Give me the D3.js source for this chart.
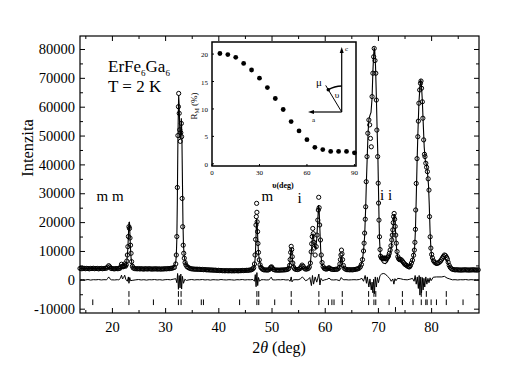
<!DOCTYPE html>
<html><head><meta charset="utf-8">
<script src="https://cdn.jsdelivr.net/npm/d3@7/dist/d3.min.js"></script>
<style>
body{margin:0;background:#fff}
svg{display:block}
text{font-family:"Liberation Serif","Times New Roman",serif;fill:#000}
</style>
</head><body>
<svg id="chart" width="510" height="369"></svg>
<script>
// ---------------- DATA ----------------
// observed intensity [2theta (deg), counts]
const observed = [
[14.0,3950],[14.25,3850],[14.5,3900],[14.75,4000],[15.0,3850],[15.25,3950],[15.5,3900],[15.75,3800],[16.0,3950],[16.25,3900],[16.5,4000],[16.75,3850],[17.0,3900],[17.25,3950],[17.5,3800],[17.75,3900],[18.0,3950],[18.25,3850],[18.5,3900],[18.75,4000],
[19.0,4050],[19.2,4400],[19.4,4900],[19.6,4500],[19.8,4000],[20.0,3900],[20.25,3850],[20.5,3800],[20.75,3900],[21.0,3850],[21.25,3900],[21.5,4000],[21.65,4500],[21.8,5400],[21.95,4700],[22.1,4500],[22.25,4900],[22.4,5500],[22.55,4700],[22.7,5200],[22.8,6500],[22.9,8600],[23.0,11500],[23.1,15000],[23.2,18400],[23.3,17800],[23.4,14500],[23.5,12000],[23.6,9200],[23.7,6300],[23.85,4700],[24.0,4100],
[24.25,3900],[24.5,3850],[24.75,3800],[25.0,3900],[25.25,3750],[25.5,3850],[25.75,3800],[26.0,3700],[26.25,3850],[26.5,3800],[26.75,3750],[27.0,3850],[27.25,3800],[27.5,3700],[27.75,3800],[28.0,3750],[28.25,3850],[28.5,3700],[28.75,3800],[29.0,3750],[29.25,3700],[29.5,3800],[29.75,3750],[30.0,3850],[30.25,3800],[30.5,3900],[30.75,3850],[31.0,3950],[31.25,4000],[31.5,4150],[31.75,4300],[32.0,5500],
[32.1,8600],[32.2,15000],[32.3,32000],[32.4,50000],[32.5,60000],[32.55,64600],[32.65,57700],[32.75,52000],[32.85,48000],[32.95,51000],[33.05,54200],[33.1,49600],[33.2,28200],[33.3,18400],[33.4,12000],[33.5,9200],[33.6,7500],[33.75,6000],[33.9,5200],[34.1,4600],[34.3,4300],[34.5,4100],
[34.75,3900],[35.0,3800],[35.25,3750],[35.5,3700],[35.75,3650],[36.0,3700],[36.25,3600],[36.5,3650],[36.75,3550],[37.0,3600],[37.25,3500],[37.5,3550],[37.75,3450],[38.0,3500],[38.25,3400],[38.5,3450],[38.75,3350],[39.0,3400],[39.25,3300],[39.5,3350],[39.75,3250],[40.0,3300],[40.25,3200],[40.5,3250],[40.75,3150],[41.0,3200],[41.25,3100],[41.5,3200],[41.75,3150],[42.0,3100],[42.25,3200],[42.5,3100],[42.75,3150],[43.0,3100],[43.25,3200],[43.5,3150],[43.75,3100],[44.0,3200],[44.25,3150],[44.5,3250],[44.75,3200],[45.0,3250],[45.25,3300],[45.5,3250],[45.75,3350],[46.0,3400],[46.25,3500],[46.5,3800],
[46.65,4200],[46.8,5500],[46.9,8600],[47.0,14000],[47.08,19000],[47.14,21900],[47.2,26500],[47.25,23400],[47.3,20100],[47.38,16700],[47.45,12600],[47.55,9500],[47.7,6900],[47.85,5200],[48.0,4300],
[48.15,4000],[48.3,3700],[48.5,3500],[48.75,3400],[49.0,3450],[49.25,3350],[49.5,3500],[49.7,3800],[49.85,4300],[50.0,4500],[50.15,4100],[50.35,3600],[50.6,3450],[50.85,3350],[51.1,3400],[51.35,3300],[51.6,3400],[51.85,3350],[52.1,3450],[52.35,3400],[52.6,3500],[52.85,3550],[53.1,3700],[53.25,4000],[53.4,5000],[53.5,7000],[53.6,9500],[53.7,11600],[53.8,10500],[53.9,8000],[54.0,5800],[54.15,4400],[54.35,3800],[54.6,3600],[54.85,3550],[55.1,3650],[55.35,3900],[55.55,4500],[55.75,5100],[55.95,4700],[56.15,4000],[56.4,3700],[56.65,3750],[56.9,3900],
[57.1,4400],[57.3,5800],[57.45,9700],[57.55,12500],[57.65,15000],[57.75,17800],[57.85,16000],[57.95,13000],[58.05,11000],[58.2,8600],[58.4,11500],[58.55,15500],[58.7,20700],[58.8,24200],[58.87,28600],[58.95,25000],[59.05,19000],[59.2,13800],[59.35,8600],[59.5,6000],[59.7,4600],[59.9,4000],
[60.1,3800],[60.35,3700],[60.6,3900],[60.8,4200],[61.0,3900],[61.25,3650],[61.5,3600],[61.75,3550],[62.0,3650],[62.25,3600],[62.5,3800],[62.7,4300],[62.85,5500],[62.95,7000],[63.05,8600],[63.15,10300],[63.25,9000],[63.35,7000],[63.5,5000],[63.7,4000],[63.95,3650],
[64.2,3500],[64.45,3550],[64.7,3450],[64.95,3500],[65.2,3450],[65.45,3550],[65.7,3600],[65.95,3700],[66.2,3800],[66.45,4000],[66.7,4500],[66.9,5300],[67.1,7000],[67.3,10000],[67.4,12700],[67.5,16200],[67.62,21000],[67.7,25300],[67.8,34000],[67.95,42700],[68.1,50800],[68.3,55400],[68.45,53700],[68.6,49000],[68.75,46100],[68.9,63500],[69.05,71600],[69.2,77300],[69.3,80200],[69.45,76000],[69.6,71600],[69.7,62300],[69.8,51900],[69.95,42700],[70.05,33500],[70.12,26600],[70.2,20700],[70.3,14900],[70.4,10500],[70.5,8200],
[70.65,7600],[70.8,7400],[70.95,7500],[71.1,7300],[71.25,7600],[71.4,7400],[71.55,7200],[71.7,7500],[71.85,7800],[72.0,8300],[72.15,9200],[72.3,10300],[72.45,11800],[72.6,13800],[72.7,15500],[72.8,17300],[72.88,19800],[72.95,21900],[73.05,23000],[73.15,21000],[73.25,18500],[73.35,15500],[73.45,12700],[73.6,9800],[73.75,8000],[73.9,7300],[74.05,7000],[74.2,7100],[74.4,6900],[74.6,6500],[74.8,6000],[75.0,5500],[75.2,5200],[75.4,5000],[75.6,4700],[75.8,4500],[75.95,4500],
[76.1,4900],[76.3,5800],[76.5,6800],[76.7,8500],[76.85,10300],[76.95,13000],[77.05,17500],[77.1,24200],[77.2,33400],[77.35,42000],[77.5,49600],[77.6,55000],[77.7,61200],[77.85,65800],[78.0,68100],[78.1,68900],[78.2,66400],[78.35,61700],[78.45,56000],[78.6,48500],[78.75,43500],[78.85,42700],[79.0,40400],[79.15,39000],[79.3,37500],[79.45,35000],[79.6,31100],[79.7,21900],[79.82,14900],[79.95,11000],[80.1,8800],[80.25,7600],[80.45,6600],[80.7,6000],[80.95,5700],
[81.2,5800],[81.45,6000],[81.7,6400],[81.9,6900],[82.1,7500],[82.3,8100],[82.5,8600],[82.7,8400],[82.9,7800],[83.05,7200],[83.2,6100],[83.4,5000],[83.6,4300],[83.85,3800],[84.1,3600],[84.35,3500],[84.6,3450],[84.85,3500],[85.1,3400],[85.35,3450],[85.6,3350],[85.85,3450],[86.1,3400],[86.35,3500],[86.6,3400],[86.85,3450],[87.1,3350],[87.35,3450],[87.6,3400],[87.85,3500],[88.1,3400],[88.35,3450],[88.6,3350],[88.85,3450]
];

// calculated profile [2theta, counts]
const calculated = [
[14,3900],[19.0,3900],[19.2,4000],[19.4,4200],[19.6,4000],[20,3850],[21.5,3850],[21.8,4100],[22.1,3950],[22.4,4200],[22.7,4400],[22.9,8500],[23.0,11000],[23.1,15500],[23.2,19800],[23.3,19900],[23.4,15000],[23.5,10500],[23.6,7500],[23.8,5000],[24.0,4200],[24.5,3900],[28,3800],[31,3900],[31.5,4200],[31.8,5000],
[32.0,6200],[32.1,8300],[32.2,14000],[32.3,28000],[32.4,48000],[32.5,60000],[32.55,64000],[32.65,60000],[32.75,52000],[32.85,49000],[32.95,51000],[33.05,56000],[33.15,50000],[33.25,35000],[33.35,20000],[33.45,12000],[33.6,8000],[33.8,6000],[34.0,5200],[34.5,4300],[35,3900],[40,3300],[45,3200],
[46.5,3600],[46.8,5000],[46.95,8000],[47.05,13000],[47.15,19000],[47.2,21300],[47.3,19500],[47.4,15000],[47.5,11000],[47.6,8500],[47.75,6500],[48.0,4600],[48.5,3600],[49.7,3500],[49.95,3900],[50.2,3500],
[53.2,3800],[53.4,5500],[53.5,7200],[53.6,9500],[53.7,11000],[53.8,10200],[53.9,7500],[54.1,4800],[54.5,3600],[55.5,3700],[55.8,4200],[56.1,3800],[57.0,3900],[57.3,5500],[57.5,10000],[57.65,14000],[57.8,16000],[57.95,14000],[58.1,11500],[58.3,11000],[58.5,14000],[58.7,21000],[58.85,25900],[58.95,24500],[59.1,17000],[59.25,10000],[59.4,6500],[59.6,4800],[60,4000],[60.5,3700],[60.8,4000],[61.1,3600],
[62.7,3900],[62.9,5500],[63.0,7000],[63.1,8000],[63.2,7500],[63.35,5500],[63.6,4000],[64,3600],[66,3500],[66.5,3900],[67.0,6000],[67.3,10000],[67.5,15000],[67.7,25000],[67.85,35000],[68.0,43000],[68.15,51000],[68.3,55500],[68.5,57000],[68.7,58000],[68.9,63000],[69.05,72000],[69.2,78000],[69.3,80600],[69.4,79500],[69.55,74000],[69.7,64000],[69.85,52000],[70.0,42000],[70.1,32000],[70.2,22000],[70.3,14000],[70.45,9000],[70.7,6500],[71.0,5800],[71.4,5600],[71.8,6300],
[72.1,7800],[72.4,10000],[72.6,13000],[72.8,17500],[73.0,22000],[73.1,22800],[73.2,20500],[73.35,15500],[73.5,11000],[73.7,8000],[74.0,6800],[74.5,6000],[75.0,5200],[75.5,4800],[76.0,5000],[76.4,6000],[76.7,8500],[76.9,11500],[77.05,17000],[77.2,28000],[77.35,40000],[77.5,50000],[77.7,61000],[77.9,67000],[78.05,69500],[78.2,67000],[78.35,62000],[78.5,55000],[78.7,46000],[78.9,41500],[79.1,40000],[79.3,37500],[79.5,33000],[79.65,26000],[79.8,17000],[79.95,11000],[80.1,8000],[80.4,6000],[81.0,5000],[81.5,5200],[82.0,6000],[82.4,7200],[82.7,7300],[83.0,6500],[83.4,4800],[83.8,3900],[84.5,3500],[89,3400]
];

// difference curve (obs - calc) [2theta, counts]
const difference = [
[14,0],[14.5,100],[15,-50],[15.5,100],[16,-100],[16.5,50],[17,0],[17.5,100],[18,-50],[18.5,50],[19,0],[19.2,500],[19.4,1000],[19.6,400],[19.9,0],[20.5,-50],[21,50],[21.3,0],[21.6,500],[21.8,1600],[22.0,300],[22.2,800],[22.4,1600],[22.6,200],[22.9,-500],[23.1,1000],[23.2,-1200],[23.35,800],[23.5,-300],[23.8,-200],[24.5,0],
[25,100],[25.5,-50],[26,50],[26.5,-100],[27,50],[27.5,0],[28,100],[28.5,-50],[29,50],[29.5,-100],[30,50],[30.5,100],[31,0],[31.5,200],[32.0,400],[32.2,-1000],[32.35,2200],[32.5,-3300],[32.65,1500],[32.8,-2800],[32.95,2000],[33.1,-3200],[33.25,1200],[33.45,-1200],[33.7,200],[34.0,-200],[34.5,0],
[35,100],[35.5,-50],[36,50],[36.5,0],[37,100],[37.5,-50],[38,50],[38.5,-100],[39,50],[39.5,0],[40,-50],[40.5,100],[41,0],[41.5,-50],[42,50],[42.5,0],[43,-100],[43.5,50],[44,0],[44.5,100],[45,-50],[45.5,50],[46,0],[46.5,100],[46.8,-500],[46.95,1800],[47.1,-2400],[47.25,2500],[47.4,-2000],[47.55,800],[47.75,-500],[48,0],[48.5,50],[49,-50],[49.5,0],[49.8,500],[49.95,900],[50.2,0],
[50.7,-50],[51.2,50],[51.7,0],[52.2,100],[52.7,-50],[53.2,0],[53.5,-500],[53.7,1000],[53.85,-700],[54.1,0],[54.6,50],[55,0],[55.4,300],[55.8,1000],[56.0,600],[56.4,-300],[56.8,0],[57.2,800],[57.5,-2000],[57.7,1500],[57.9,-1500],[58.2,1000],[58.5,-800],[58.7,600],[58.9,2000],[59.1,-1800],[59.3,500],[59.6,-300],[60.0,0],[60.3,100],[60.6,300],[60.8,600],[61.2,0],[61.7,-50],[62.2,50],[62.8,-300],[63.1,800],[63.3,300],[63.6,0],
[64,50],[64.5,-50],[65,0],[65.5,50],[66,0],[66.5,100],[67.0,500],[67.3,-500],[67.6,1500],[67.85,-1200],[68.0,1000],[68.3,-2500],[68.5,300],[68.75,-3500],[68.9,-800],[69.05,-4500],[69.2,200],[69.35,-4800],[69.5,1000],[69.7,-2500],[69.9,800],[70.1,-1000],[70.4,1500],[70.7,2000],[71.0,2200],[71.4,2000],[71.8,1200],[72.2,500],[72.5,-500],[72.8,300],[73.0,-1500],[73.2,400],[73.4,-300],[73.7,500],[74.2,400],[74.8,100],[75.5,0],[76,200],[76.5,500],[76.8,-500],[77.0,1500],[77.2,-1500],[77.4,1000],[77.6,-3000],[77.75,1500],[77.9,-5300],[78.05,1000],[78.2,-4500],[78.35,800],[78.5,-3500],[78.65,500],[78.8,-2500],[79.0,1000],[79.2,-1500],[79.4,500],[79.6,-1000],[79.8,700],[80.0,-300],[80.4,900],[81,1000],[82,1000],[82.5,1200],[83,600],[83.5,300],[84,0],[84.5,50],[85,-50],[85.5,50],[86,0],[86.5,100],[87,-50],[87.5,50],[88,0],[88.5,50],[89,0]
];

// Bragg reflection positions (2theta) for the three rows of markers
const braggRow1 = [23.2,32.5,33.0,47.25,47.6,53.7,58.9,63.3,68.25,69.25,69.6,74.6,78.15,79.1,82.85];
const braggRow2 = [16.4,23.2,27.8,32.5,33.0,36.8,37.2,44.0,47.25,47.6,50.6,53.7,58.9,60.7,61.35,61.75,63.3,68.25,69.25,69.6,72.1,74.6,76.6,78.15,79.0,79.25,80.0,81.0,82.85,86.0];
const braggRow3 = [73.3];

// axis ticks
const xTickValues = [20,30,40,50,60,70,80];
const xMinorTicks = [15,25,35,45,55,65,75,85];
const yTickValues = [-10000,0,10000,20000,30000,40000,50000,60000,70000,80000];
const yMinorTicks = [-5000,5000,15000,25000,35000,45000,55000,65000,75000];

// peak annotations (text, 2theta, intensity)
const peakLabelText = ["m m","m","i","i i"];
const peakLabelTheta = [17.1,48.1,54.9,70.4];
const peakLabelI = [27300,27300,26600,27700];

// inset: magnetic R-factor vs angle
const insetAngle = [5,10,15,20,25,30,35,40,45,50,55,60,65,70,75,80,85,90];
const insetR = [20.1,19.9,19.4,18.3,17.1,15.6,13.9,11.9,9.9,7.7,6.0,4.4,3.0,2.6,2.25,2.25,2.25,2.0];
const insetXTicks = [0,30,60,90];
const insetYTicks = [0,5,10,15,20];

// ---------------- DRAWING ----------------
const svg = d3.select("#chart");
const L = 80, R = 479, T = 36, B = 313;
const x = d3.scaleLinear().domain([14, 89]).range([L, R]);
const y = d3.scaleLinear().domain([-11500, 84500]).range([B, T]);

function axisStyle(g){
  g.select(".domain").remove();
  g.selectAll("line").attr("stroke","#000").attr("stroke-width",1);
  g.selectAll("text").attr("font-size","14.5px").attr("font-family","'Liberation Serif',serif").attr("fill","#000");
}
const fmt = d => String(d);
// bottom
svg.append("g").attr("transform",`translate(0,${B})`)
  .call(d3.axisBottom(x).tickValues(xTickValues).tickSizeInner(-5).tickSizeOuter(0).tickPadding(9).tickFormat(fmt)).call(axisStyle);
svg.append("g").attr("transform",`translate(0,${B})`)
  .call(d3.axisBottom(x).tickValues(xMinorTicks).tickSizeInner(-3).tickSizeOuter(0).tickFormat("")).call(axisStyle);
// top
svg.append("g").attr("transform",`translate(0,${T})`)
  .call(d3.axisTop(x).tickValues(xTickValues).tickSizeInner(-5).tickSizeOuter(0).tickFormat("")).call(axisStyle);
svg.append("g").attr("transform",`translate(0,${T})`)
  .call(d3.axisTop(x).tickValues(xMinorTicks).tickSizeInner(-3).tickSizeOuter(0).tickFormat("")).call(axisStyle);
// left
svg.append("g").attr("transform",`translate(${L},0)`)
  .call(d3.axisLeft(y).tickValues(yTickValues).tickSizeInner(-5).tickSizeOuter(0).tickPadding(5).tickFormat(fmt)).call(axisStyle);
svg.append("g").attr("transform",`translate(${L},0)`)
  .call(d3.axisLeft(y).tickValues(yMinorTicks).tickSizeInner(-3).tickSizeOuter(0).tickFormat("")).call(axisStyle);
// right
svg.append("g").attr("transform",`translate(${R},0)`)
  .call(d3.axisRight(y).tickValues(yTickValues).tickSizeInner(-5).tickSizeOuter(0).tickFormat("")).call(axisStyle);
svg.append("g").attr("transform",`translate(${R},0)`)
  .call(d3.axisRight(y).tickValues(yMinorTicks).tickSizeInner(-3).tickSizeOuter(0).tickFormat("")).call(axisStyle);

// frame
svg.append("rect").attr("x",L).attr("y",T).attr("width",R-L).attr("height",B-T)
  .attr("fill","none").attr("stroke","#000").attr("stroke-width",1.2);

const plot = svg.append("g");
const line = d3.line().x(d=>x(d[0])).y(d=>y(d[1]));

// difference
plot.append("path").datum(difference).attr("d",line).attr("fill","none").attr("stroke","#000").attr("stroke-width",1);
// calculated
plot.append("path").datum(calculated).attr("d",line).attr("fill","none").attr("stroke","#000").attr("stroke-width",1.1);
// observed
plot.append("g").selectAll("circle").data(observed).join("circle")
  .attr("cx",d=>x(d[0])).attr("cy",d=>y(d[1])).attr("r",2.1)
  .attr("fill","none").attr("stroke","#000").attr("stroke-width",1);

// Bragg markers
const rows = [[braggRow1,-3900,-5900],[braggRow2,-6800,-8750],[braggRow3,-9450,-11100]];
rows.forEach(([arr,top,bot])=>{
  plot.append("g").selectAll("line").data(arr).join("line")
    .attr("x1",d=>x(d)).attr("x2",d=>x(d)).attr("y1",y(top)).attr("y2",y(bot))
    .attr("stroke","#000").attr("stroke-width",1);
});

// peak labels
peakLabelText.forEach((t,i)=>{
  svg.append("text").attr("x",x(peakLabelTheta[i])).attr("y",y(peakLabelI[i]))
    .attr("font-size","15px").attr("fill","#000").text(t);
});

// axis titles
svg.append("text").attr("transform","translate(33,148) rotate(-90)").attr("text-anchor","middle")
  .attr("font-size","16.5px").attr("fill","#000").text("Intenzita");
const xt = svg.append("text").attr("x",279).attr("y",353).attr("text-anchor","middle").attr("font-size","16px").attr("fill","#000");
xt.append("tspan").text("2");
xt.append("tspan").attr("font-style","italic").text("θ");
xt.append("tspan").text(" (deg)");

// compound label
const comp = svg.append("text").attr("x",108).attr("y",72).attr("font-size","17px").attr("fill","#000");
comp.append("tspan").text("ErFe");
comp.append("tspan").attr("font-size","9px").attr("dy",4).text("6");
comp.append("tspan").attr("dy",-4).text("Ga");
comp.append("tspan").attr("font-size","9px").attr("dy",4).text("6");
svg.append("text").attr("x",108).attr("y",92).attr("font-size","17px").attr("fill","#000").text("T = 2 K");

// ---------------- INSET ----------------
const iL = 212, iR = 356, iT = 42, iB = 166;
const ix = d3.scaleLinear().domain([0, 91]).range([iL, iR]);
const iy = d3.scaleLinear().domain([-0.4, 22.2]).range([iB, iT]);
const inset = svg.append("g");
inset.append("rect").attr("x",iL).attr("y",iT).attr("width",iR-iL).attr("height",iB-iT)
  .attr("fill","#fff").attr("stroke","#000").attr("stroke-width",1.5);
inset.selectAll(".ixt").data(insetXTicks).join("text")
  .attr("x",d=>ix(d)).attr("y",iB+9).attr("text-anchor","middle").attr("fill","#000")
  .attr("font-size","7px").attr("font-family","'DejaVu Sans Mono',monospace").text(d=>d);
inset.selectAll(".iyt").data(insetYTicks).join("text")
  .attr("x",iL-4).attr("y",d=>iy(d)+3).attr("text-anchor","end").attr("fill","#000")
  .attr("font-size","7px").attr("font-family","'DejaVu Sans Mono',monospace").text(d=>d);
inset.selectAll(".ixk").data(insetXTicks).join("line")
  .attr("x1",d=>ix(d)).attr("x2",d=>ix(d)).attr("y1",iB).attr("y2",iB-2).attr("stroke","#000");
inset.selectAll(".iyk").data(insetYTicks).join("line")
  .attr("x1",iL).attr("x2",iL+2).attr("y1",d=>iy(d)).attr("y2",d=>iy(d)).attr("stroke","#000");
inset.append("g").selectAll("circle").data(insetAngle).join("circle")
  .attr("cx",(d)=>ix(d)).attr("cy",(d,i)=>iy(insetR[i])).attr("r",2.4).attr("fill","#000");
// inset axis titles
const ryl = inset.append("text").attr("transform",`translate(197,106) rotate(-90)`).attr("text-anchor","middle").attr("font-size","9px").attr("fill","#000");
ryl.append("tspan").text("R");
ryl.append("tspan").attr("font-size","6px").attr("dy",2).text("M");
ryl.append("tspan").attr("dy",-2).text(" (%)");
inset.append("text").attr("x",283).attr("y",188).attr("text-anchor","middle").attr("font-size","8px").attr("fill","#000")
  .attr("font-weight","bold").text("υ(deg)");

// inset geometry sketch (a, c axes, moment mu at angle upsilon)
const cx0 = 341.7, cy0 = 112;
inset.append("line").attr("x1",cx0).attr("y1",cy0).attr("x2",cx0).attr("y2",50).attr("stroke","#000").attr("stroke-width",1.2);
inset.append("path").attr("d",`M${cx0},47 L${cx0-2},53 L${cx0+2},53 Z`).attr("fill","#000");
inset.append("text").attr("x",345).attr("y",51).attr("font-size","7px").attr("fill","#000").text("c");
inset.append("line").attr("x1",cx0).attr("y1",cy0).attr("x2",311).attr("y2",cy0).attr("stroke","#000").attr("stroke-width",1.2);
inset.append("path").attr("d",`M308,${cy0} L314,${cy0-2} L314,${cy0+2} Z`).attr("fill","#000");
inset.append("text").attr("x",312).attr("y",122).attr("font-size","7px").attr("fill","#000").text("a");
const ang = 31*Math.PI/180, rr = 26;
inset.append("line").attr("x1",cx0).attr("y1",cy0)
  .attr("x2",cx0-(rr+5)*Math.sin(ang)).attr("y2",cy0-(rr+5)*Math.cos(ang)).attr("stroke","#000").attr("stroke-width",1);
inset.append("circle").attr("cx",cx0-rr*Math.sin(ang)).attr("cy",cy0-rr*Math.cos(ang)).attr("r",1.8).attr("fill","#000");
const p = d3.path();
p.moveTo(cx0+rr*Math.cos(-Math.PI/2-ang), cy0+rr*Math.sin(-Math.PI/2-ang));
p.arc(cx0, cy0, rr, -Math.PI/2-ang, -Math.PI/2);
inset.append("path").attr("d",p.toString()).attr("fill","none").attr("stroke","#000").attr("stroke-width",1.5);
inset.append("text").attr("x",316).attr("y",86).attr("font-size","11px").attr("fill","#000").text("μ");
inset.append("text").attr("x",337).attr("y",98).attr("text-anchor","middle").attr("font-size","9px").attr("fill","#000").text("υ");
</script>
</body></html>
